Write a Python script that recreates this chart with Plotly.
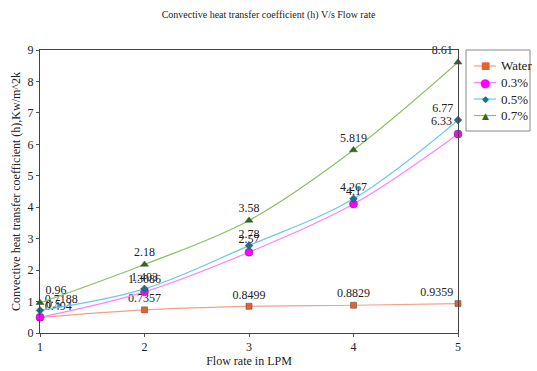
import plotly.graph_objects as go

flow = [1, 2, 3, 4, 5]
water = [0.494, 0.7357, 0.8499, 0.8829, 0.9359]
p03 = [0.5, 1.3086, 2.57, 4.1, 6.33]
p05 = [0.7188, 1.403, 2.78, 4.267, 6.77]
p07 = [0.96, 2.18, 3.58, 5.819, 8.61]
water_lbl = ["0.494", "0.7357", "0.8499", "0.8829", "0.9359"]
p03_lbl = ["0.5", "1.3086", "2.57", "4.1", "6.33"]
p05_lbl = ["0.7188", "1.403", "2.78", "4.267", "6.77"]
p07_lbl = ["0.96", "2.18", "3.58", "5.819", "8.61"]

FONT = "Liberation Serif"
pos = ["top right", "top center", "top center", "top center", "top left"]

series = [
    ("Water", water, water_lbl, "#F4A08A", "#E8602C", "square", 6, "■", 10),
    ("0.3%", p03, p03_lbl, "#FF80FF", "#FF00FF", "circle", 8, "●", 12),
    ("0.5%", p05, p05_lbl, "#6EC6EA", "#1A6F95", "diamond", 6, "◆", 9),
    ("0.7%", p07, p07_lbl, "#8CC063", "#2E6B14", "triangle-up", 7, "▲", 9),
]

W, H = 537, 371
L, R, T, B = 40, 79, 50, 38
pw, ph = W - L - R, H - T - B


def px(x):
    return (x - L) / pw


def py(y):
    return (H - B - y) / ph


fig = go.Figure()
shapes = []
annots = []
# legend box
shapes.append(dict(type="rect", xref="paper", yref="paper",
                   x0=px(466), x1=px(530), y0=py(131), y1=py(50),
                   line=dict(color="#888", width=1), fillcolor="white"))
for i, (name, ys, lbl, lc, mc, sym, ms, glyph, gs) in enumerate(series):
    fig.add_trace(go.Scatter(
        x=flow, y=ys, name=name, mode="lines+markers+text",
        text=lbl, textposition=pos,
        textfont=dict(family=FONT, size=12, color="#222"),
        line=dict(color=lc, width=1.2, shape="spline"),
        marker=dict(color=mc, symbol=sym, size=ms, line=dict(width=0.5, color="#444")),
        cliponaxis=False, showlegend=False,
    ))
    ry = 66 + i * 16.5
    shapes.append(dict(type="line", xref="paper", yref="paper",
                       x0=px(474), x1=px(496), y0=py(ry), y1=py(ry),
                       line=dict(color=lc, width=1.2)))
    annots.append(dict(xref="paper", yref="paper", x=px(485), y=py(ry),
                       text=glyph, showarrow=False, xanchor="center", yanchor="middle",
                       font=dict(family="DejaVu Sans", size=gs, color=mc)))
    annots.append(dict(xref="paper", yref="paper", x=px(499), y=py(ry),
                       text=name, showarrow=False, xanchor="left", yanchor="middle",
                       font=dict(family=FONT, size=13, color="#222")))

fig.update_layout(
    width=W, height=H,
    margin=dict(l=L, r=R, t=T, b=B, autoexpand=False),
    paper_bgcolor="white", plot_bgcolor="white",
    font=dict(family=FONT, size=12, color="#222"),
    title=dict(text="Convective heat transfer coefficient (h) V/s Flow rate",
               x=0.5, xref="container", y=0.96, yref="container",
               xanchor="center", yanchor="middle",
               font=dict(family=FONT, size=10, color="#222")),
    xaxis=dict(range=[1, 5], tickvals=flow, showgrid=False, zeroline=False,
               showline=True, linecolor="#444", linewidth=1, mirror=True,
               ticks="outside", ticklen=3, tickcolor="#555", automargin=False,
               title=dict(text="Flow rate in LPM", font=dict(family=FONT, size=12),
                          standoff=2)),
    yaxis=dict(range=[0, 9], dtick=1, showgrid=False, zeroline=False,
               showline=True, linecolor="#444", linewidth=1, mirror=True,
               ticks="outside", ticklen=3, tickcolor="#555", automargin=False,
               title=dict(text="Convective heat transfer coefficient (h),Kw/m^2k",
                          font=dict(family=FONT, size=12), standoff=4)),
    shapes=shapes, annotations=annots,
    showlegend=False,
)

fig.write_html("out.html")
